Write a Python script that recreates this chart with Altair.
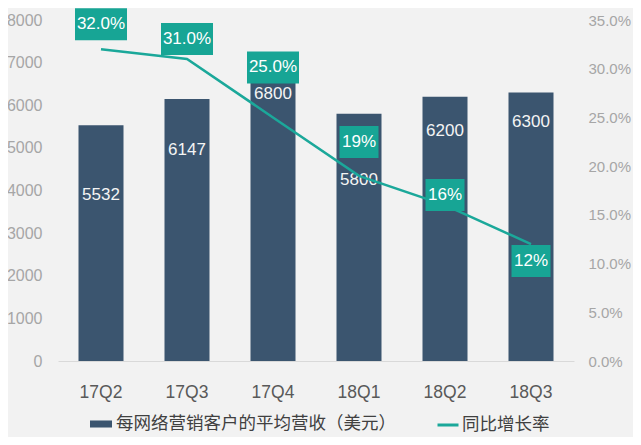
import altair as alt
import pandas as pd

# ---- data ----
quarters = ["17Q2", "17Q3", "17Q4", "18Q1", "18Q2", "18Q3"]
revenue = [5532, 6147, 6800, 5800, 6200, 6300]
growth = [0.32, 0.31, 0.25, 0.19, 0.16, 0.12]
growth_labels = ["32.0%", "31.0%", "25.0%", "19%", "16%", "12%"]
bar_name = "每网络营销客户的平均营收（美元）"
line_name = "同比增长率"
left_ticks = [0, 1000, 2000, 3000, 4000, 5000, 6000, 7000, 8000]
right_ticks = [0.0, 0.05, 0.10, 0.15, 0.20, 0.25, 0.30, 0.35]

# ---- label placement (pixels) ----
bar_label_down = [70, 51, 23, 66, 34, 30]     # below bar top
box_up = [25, 20, 50, 34, 10, -17]            # above line point

W, H = 516, 341
REV_MAX, PCT_MAX = 8000, 0.35

df = pd.DataFrame({
    "q": quarters,
    "rev": revenue,
    "g": growth,
    "glab": growth_labels,
    "bdown": bar_label_down,
    "bup": box_up,
    "boxw": [52 if len(s) > 3 else 39 for s in growth_labels],
    "bar_series": bar_name,
    "line_series": line_name,
})

NAVY = "#3b556f"
TEAL = "#17a595"
LINE_TEAL = "#1ba89a"
FONT = "Liberation Sans"
CJK = "Noto Sans CJK SC"

x = alt.X("q:N", sort=quarters, title=None,
          scale=alt.Scale(paddingInner=0, paddingOuter=0),
          axis=alt.Axis(labelAngle=0, labelFont=FONT, labelFontSize=17.5,
                        labelColor="#595959", labelPadding=22, ticks=False,
                        domain=True, domainColor="#d9d9d9", domainWidth=1.2))

left_axis = alt.Axis(values=left_ticks, format="d", labelFont=FONT,
                     labelFontSize=16, labelColor="#a6a6a6", labelPadding=16,
                     ticks=False, domain=False, grid=False, title=None)
right_axis = alt.Axis(orient="right", values=right_ticks,
                      format=".1%", labelFont=FONT, labelFontSize=15,
                      labelColor="#a6a6a6", labelPadding=14, ticks=False,
                      domain=False, grid=False, title=None)
rev_scale = alt.Scale(domain=[0, REV_MAX], nice=False)
pct_scale = alt.Scale(domain=[0, PCT_MAX], nice=False)

base = alt.Chart(df)

bars = base.mark_bar(size=45).encode(
    x=x,
    y=alt.Y("rev:Q", title=None, scale=rev_scale, axis=left_axis),
    fill=alt.Fill("bar_series:N", title=None,
                  scale=alt.Scale(domain=[bar_name], range=[NAVY]),
                  legend=alt.Legend(orient="none", legendX=32, legendY=393,
                                    symbolType="M-1,-0.32L1,-0.32L1,0.32L-1,0.32Z",
                                    symbolSize=484, symbolStrokeWidth=0,
                                    labelFont=CJK, labelFontSize=17.5,
                                    labelColor="#404040", labelOffset=4,
                                    labelLimit=0, padding=0)),
)

bar_text = base.transform_calculate(
    txt="format(datum.rev, 'd')"
).transform_calculate(
    rev=f"datum.rev - datum.bdown * {REV_MAX} / {H}"
).mark_text(font=FONT, fontSize=17, color="#f4f4f4", baseline="middle").encode(
    x=x,
    y=alt.Y("rev:Q", title=None, scale=rev_scale, axis=left_axis),
    text=alt.Text("txt:N"),
)

left = alt.layer(bars, bar_text)

line = base.mark_line(strokeWidth=2.5).encode(
    x=x,
    y=alt.Y("g:Q", title=None, scale=pct_scale, axis=right_axis),
    stroke=alt.Stroke("line_series:N", title=None,
                      scale=alt.Scale(domain=[line_name], range=[LINE_TEAL]),
                      legend=alt.Legend(orient="none", legendX=378, legendY=393,
                                        symbolType="stroke", symbolSize=441,
                                        symbolStrokeWidth=3,
                                        labelFont=CJK, labelFontSize=17.5,
                                        labelColor="#404040", labelOffset=2,
                                        labelLimit=0, padding=0)),
)

half = 16 * PCT_MAX / H
boxes = base.transform_calculate(
    c=f"datum.g + datum.bup * {PCT_MAX} / {H}"
).transform_calculate(
    g=f"datum.c - {half}", b1=f"datum.c + {half}"
).mark_bar(color=TEAL).encode(
    x=x,
    y=alt.Y("g:Q", title=None, scale=pct_scale, axis=right_axis),
    y2="b1:Q",
    size=alt.Size("boxw:Q", scale=None, legend=None),
)

box_text = base.transform_calculate(
    g=f"datum.g + datum.bup * {PCT_MAX} / {H}"
).mark_text(font=FONT, fontSize=17, color="#ffffff", baseline="middle").encode(
    x=x,
    y=alt.Y("g:Q", title=None, scale=pct_scale, axis=right_axis),
    text="glab:N",
)

right = alt.layer(line, boxes, box_text)

chart = alt.layer(left, right).resolve_scale(
    y="independent"
).properties(
    width=W, height=H,
    autosize=alt.AutoSizeParams(type="none"),
    padding={"left": 50, "top": 12, "right": 59, "bottom": 76},
    background="#f2f2f2",
).configure_view(stroke=None)

chart.save("out.html", embed_options={"renderer": "svg", "actions": False})
